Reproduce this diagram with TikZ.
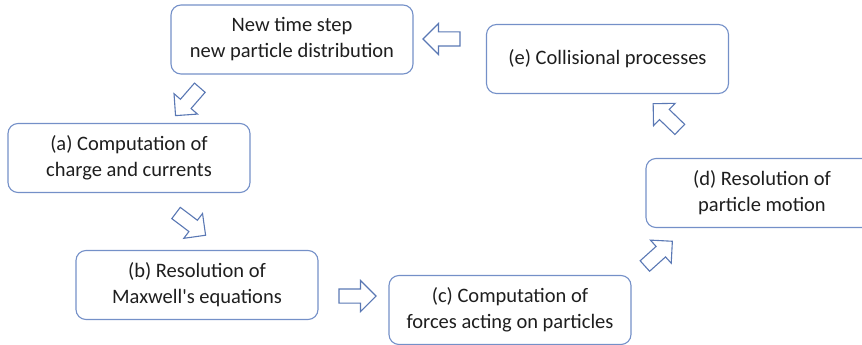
\documentclass[tikz,border=0pt]{standalone}
\usepackage{fontspec}
\setmainfont{Carlito}[Ligatures=TeXOff]
\usetikzlibrary{shapes.arrows}
\definecolor{boxblue}{HTML}{7490C8}
\definecolor{arrblue}{HTML}{5A78B4}
\definecolor{txt}{HTML}{1E1E1E}
\tikzset{
  stepbox/.style={draw=boxblue, line width=1.1pt, rounded corners=10pt, minimum width=242pt, minimum height=69pt, align=center, text=txt, font=\fontsize{20.5}{26}\selectfont, inner sep=0pt},
  blockarrow/.style={single arrow, draw=arrblue, line width=1.1pt, fill=white, inner sep=6.5pt, minimum height=37pt, single arrow head extend=8.5pt, single arrow head indent=0pt, rotate=#1}
}
\begin{document}
\begin{tikzpicture}[x=1pt,y=-1pt]
\useasboundingbox (0,0) rectangle (862,345);
\node[stepbox] (top) at (292,39.5) {New time step\\new particle distribution};
\node[stepbox] (e) at (607.5,59) {(e) Collisional processes};
\node[stepbox] (a) at (129,158) {(a) Computation of\\charge and currents};
\node[stepbox] (b) at (197,285) {(b) Resolution of\\Maxwell's equations};
\node[stepbox] (c) at (510,310) {(c) Computation of\\forces acting on particles};
\node[stepbox, minimum width=232pt] (d) at (762,193) {(d) Resolution of\\particle motion};
\node[blockarrow=229] (ar1) at (190,99) {};
\node[blockarrow=-37] (ar2) at (188,222) {};
\node[blockarrow=0] (ar3) at (354,296) {};
\node[blockarrow=42] (ar4) at (656,256) {};
\node[blockarrow=136] (ar5) at (669,119) {};
\node[blockarrow=180] (ar6) at (445,39) {};
\end{tikzpicture}
\end{document}
